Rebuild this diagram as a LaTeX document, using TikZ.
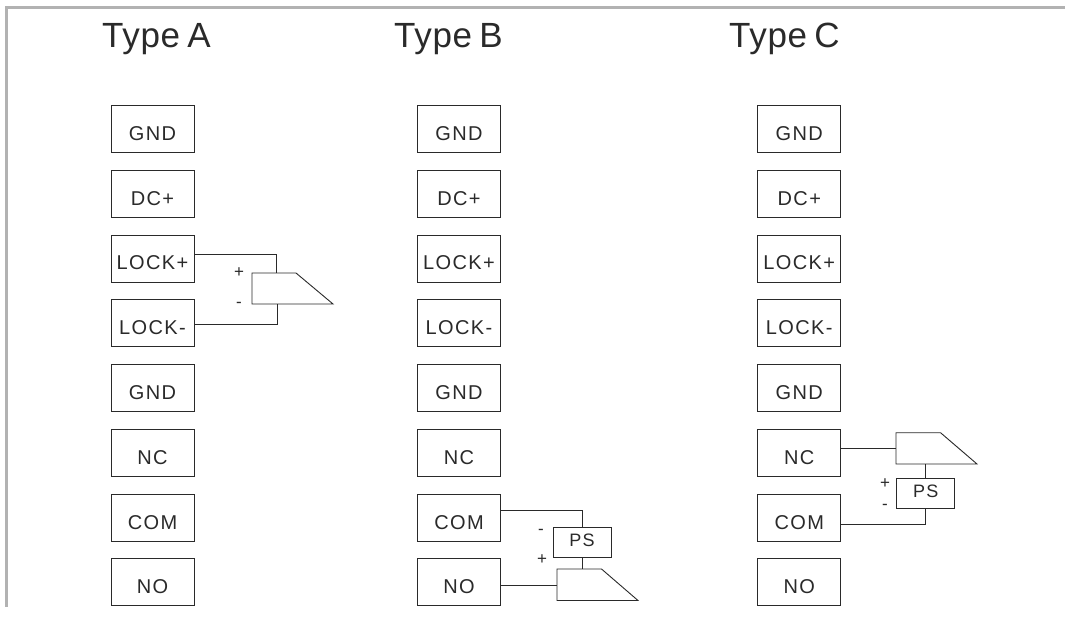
\documentclass[tikz,border=0pt]{standalone}
\usepackage{fontspec}
\setmainfont{Liberation Sans}
\newfontfamily\lblfont[LetterSpace=7]{Liberation Sans}
\newfontfamily\titlefont[LetterSpace=2,WordSpace=0.7]{Liberation Sans}
\definecolor{ink}{HTML}{2A2A2A}
\definecolor{framegray}{HTML}{B2B2B2}
\tikzset{
  termbox/.style={draw=ink,line width=0.9pt,minimum width=83pt,minimum height=47pt,inner sep=0pt,outer sep=0pt,
    text=ink,text height=23pt,text depth=0pt,font=\lblfont\fontsize{20}{20}\selectfont},
  psbox/.style={draw=ink,line width=0.9pt,minimum width=58pt,minimum height=30pt,inner sep=0pt,outer sep=0pt,
    text=ink,text height=9.4pt,text depth=0pt,font=\lblfont\fontsize{18}{18}\selectfont},
  title/.style={text=ink,inner sep=0pt,anchor=base west,font=\titlefont\fontsize{35}{35}\selectfont},
  sign/.style={text=ink,inner sep=0pt,text height=12pt,text depth=0pt,font=\fontsize{17}{17}\selectfont},
  wire/.style={draw=ink,line width=0.9pt},
  frameline/.style={draw=framegray,line width=3pt}
}
\begin{document}
\begin{tikzpicture}[x=1pt,y=-1pt]
\useasboundingbox (0,0) rectangle (1065,617);
\fill[white] (0,0) rectangle (1065,617);
\draw[frameline] (1065,7.5) -- (6.5,7.5) -- (6.5,607);
\node[title] (ta) at (102,48) {Type A};
\node[title] (tb) at (394,48) {Type B};
\node[title] (tc) at (729,48) {Type C};
\foreach \c/\x in {a/152.5,b/459,c/799.3}{
  \foreach \n/\y/\t in {1/129/GND,2/193.7/DC+,3/258.5/LOCK+,4/323/LOCK-,5/388/GND,6/452.5/NC,7/517.5/COM,8/582/NO}{
    \node[termbox] (\c\n) at (\x,\y) {\t};
  }
}
% Type A
\coordinate (wa1) at (252,273);
\coordinate (wa2) at (296,273);
\coordinate (wa3) at (333,304);
\coordinate (wa4) at (252,304);
\draw[wire] (wa1) -- (wa2) -- (wa3) -- (wa4) -- cycle;
\coordinate (wat) at (276,273);
\coordinate (wab) at (277,304);
\draw[wire] (a3.east |- 0,254) -| (wat);
\draw[wire] (a4.east |- 0,324) -| (wab);
\node[sign] (sa1) at (239,272) {+};
\node[sign] (sa2) at (239,302) {-};
% Type B
\node[psbox] (psb) at (582,542) {PS};
\coordinate (wb1) at (557,569);
\coordinate (wb2) at (601.5,569);
\coordinate (wb3) at (638,600.5);
\coordinate (wb4) at (557,600.5);
\draw[wire] (wb1) -- (wb2) -- (wb3) -- (wb4) -- cycle;
\draw[wire] (b7.east |- 0,510.5) -| (psb.north);
\draw[wire] (psb.south) -- (psb.south |- wb1);
\draw[wire] (b8.east |- 0,585) -- (wb1 |- 0,585);
\node[sign] (sb1) at (541,528) {-};
\node[sign] (sb2) at (542,558) {+};
% Type C
\coordinate (wc1) at (896,432.7);
\coordinate (wc2) at (940.5,432.7);
\coordinate (wc3) at (977,464);
\coordinate (wc4) at (896,464);
\draw[wire] (wc1) -- (wc2) -- (wc3) -- (wc4) -- cycle;
\node[psbox] (psc) at (925.7,493) {PS};
\draw[wire] (c6.east |- 0,448.5) -- (wc1 |- 0,448.5);
\draw[wire] (psc.north) -- (psc.north |- wc4);
\draw[wire] (c7.east |- 0,524.7) -| (psc.south);
\node[sign] (sc1) at (885,482) {+};
\node[sign] (sc2) at (885,503.3) {-};
\end{tikzpicture}
\end{document}
